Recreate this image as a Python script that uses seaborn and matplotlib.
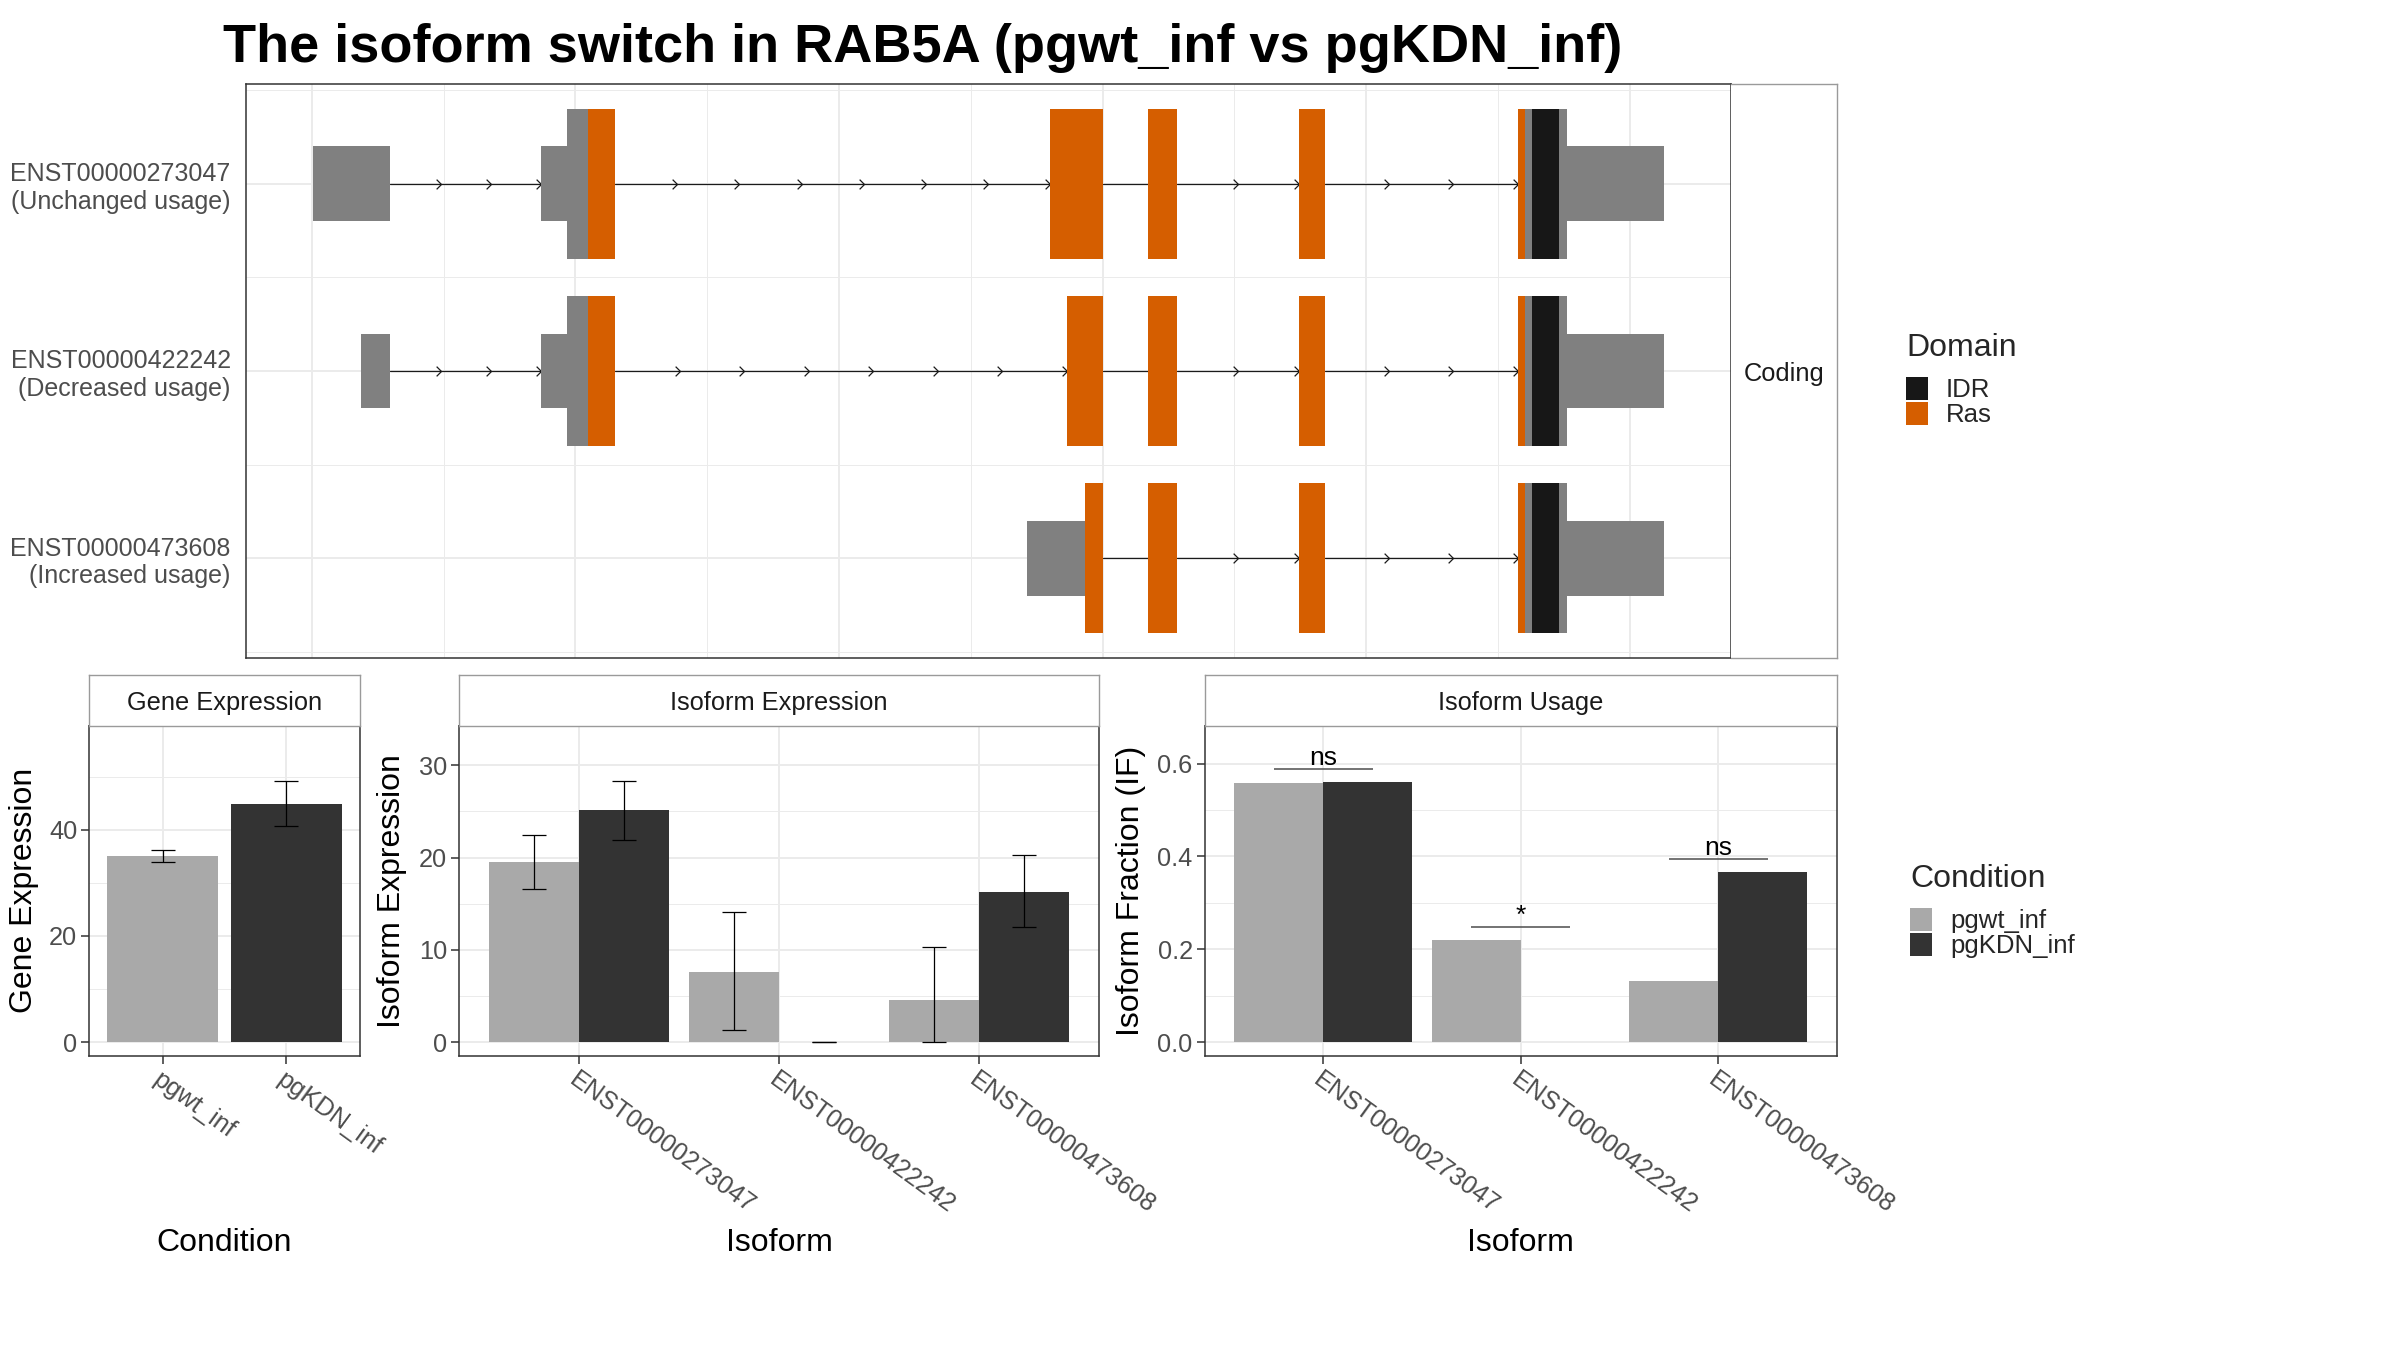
import numpy as np
import pandas as pd
import matplotlib
matplotlib.use("Agg")
import matplotlib.pyplot as plt
import seaborn as sns
from matplotlib.path import Path
from matplotlib.patches import Patch

# ---------------- data ----------------
title = "The isoform switch in RAB5A (pgwt_inf vs pgKDN_inf)"
conditions = ["pgwt_inf", "pgKDN_inf"]
cond_colors = ["#A9A9A9", "#333333"]
isoforms = ["ENST00000273047", "ENST00000422242", "ENST00000473608"]
usage_labels = ["(Unchanged usage)", "(Decreased usage)", "(Increased usage)"]
facet_label = "Coding"

# transcript structures (rescaled genomic coordinates)
exons_273047 = [(6, 298), (870, 1150), (2802, 3003), (3173, 3283), (3744, 3843), (4575, 5128)]
exons_422242 = [(188, 298), (870, 1150), (2863, 3003), (3173, 3283), (3744, 3843), (4575, 5128)]
exons_473608 = [(2712, 3003), (3173, 3283), (3744, 3843), (4575, 5128)]
cds_273047 = (969, 4763)
cds_422242 = (969, 4763)
cds_473608 = (2934, 4763)
domains_273047 = [("Ras", 1047, 4602), ("IDR", 4628, 4733)]
domains_422242 = [("Ras", 1047, 4602), ("IDR", 4628, 4733)]
domains_473608 = [("Ras", 2934, 4602), ("IDR", 4628, 4733)]
domain_names = ["IDR", "Ras"]
domain_colors = ["#171717", "#D55E00"]

# gene expression
gene_expr = [35.0, 44.8]
gene_lo = [33.9, 40.6]
gene_hi = [36.2, 49.2]

# isoform expression
iso_expr_wt = [19.5, 7.6, 4.6]
iso_expr_kd = [25.1, 0.0, 16.3]
iso_lo_wt = [16.6, 1.3, 0.0]
iso_hi_wt = [22.4, 14.1, 10.3]
iso_lo_kd = [21.9, 0.0, 12.5]
iso_hi_kd = [28.3, 0.0, 20.3]

# isoform usage
if_wt = [0.558, 0.221, 0.131]
if_kd = [0.561, 0.0, 0.367]
sig_labels = ["ns", "*", "ns"]
sig_y = [0.589, 0.249, 0.395]

# ---------------- style ----------------
sns.set_theme(style="white")
plt.rcParams["font.family"] = ["Liberation Sans", "DejaVu Sans"]
W, H = 2400, 1350
fig = plt.figure(figsize=(24, 13.5), dpi=100)
fig.patch.set_facecolor("white")

GRID = "#EBEBEB"
BORDER = "#333333"
STRIPB = "#9A9A9A"
TICKC = "#4D4D4D"
GREY = "#808080"
TICK_FS = 18.3
TITLE_FS = 23
STRIP_FS = 18.3


def fbox(x0, y0, x1, y1):
    return [x0 / W, 1 - y1 / H, (x1 - x0) / W, (y1 - y0) / H]


def style_panel(ax):
    for s in ax.spines.values():
        s.set_color(BORDER)
        s.set_linewidth(1.1)
        s.set_visible(True)
    ax.set_facecolor("white")
    ax.set_axisbelow(True)
    ax.grid(which="major", color=GRID, lw=1.4)
    ax.grid(which="minor", color=GRID, lw=0.7)


def strip(box, text):
    sax = fig.add_axes(fbox(*box))
    sax.set_xticks([])
    sax.set_yticks([])
    sax.set_facecolor("white")
    for s in sax.spines.values():
        s.set_color(STRIPB)
        s.set_linewidth(1.0)
    sax.text(0.5, 0.5, text, ha="center", va="center_baseline", fontsize=STRIP_FS,
             color="#1a1a1a", transform=sax.transAxes)
    return sax


# ---------------- title ----------------
fig.text(223 / W, 1 - 62 / H, title, fontsize=39, fontweight="bold", ha="left",
         va="baseline", color="black")

# ---------------- transcript panel ----------------
ax = fig.add_axes(fbox(246, 84, 1731, 658))
style_panel(ax)
chevron = Path([(-1, 1), (0, 0), (-1, -1)])
structures = [(exons_273047, cds_273047, domains_273047),
              (exons_422242, cds_422242, domains_422242),
              (exons_473608, cds_473608, domains_473608)]
rows = [3, 2, 1]
dcol = dict(zip(domain_names, domain_colors))
for (exons, cds, doms), yrow in zip(structures, rows):
    for (s0, e0), (s1, e1) in zip(exons[:-1], exons[1:]):
        ax.plot([e0, s1], [yrow, yrow], color="#1a1a1a", lw=0.9, zorder=1.2)
        L = s1 - e0
        n = int(np.ceil(L / 249)) if L > 232 else 0
        if n:
            xs = e0 + np.arange(1, n + 1) * L / n
            ax.plot(xs, [yrow] * n, ls="none", marker=chevron, ms=7, mfc="none",
                    mec="#1a1a1a", mew=0.9, zorder=1.3)
    for s, e in exons:
        if s < cds[0]:
            a, b = s, min(e, cds[0])
            ax.barh(yrow, b - a, left=a, height=0.4, color=GREY, lw=0, zorder=2)
        if e > cds[1]:
            a, b = max(s, cds[1]), e
            ax.barh(yrow, b - a, left=a, height=0.4, color=GREY, lw=0, zorder=2)
        a, b = max(s, cds[0]), min(e, cds[1])
        if b > a:
            ax.barh(yrow, b - a, left=a, height=0.8, color=GREY, lw=0, zorder=2)
            for name, d0, d1 in doms:
                c0, c1 = max(a, d0), min(b, d1)
                if c1 > c0:
                    ax.barh(yrow, c1 - c0, left=c0, height=0.8, color=dcol[name],
                            lw=0, zorder=3)

ax.set_xlim(-250, 5384)
ax.set_ylim(0.466, 3.534)
ax.set_xticks(np.arange(0, 5001, 1000))
ax.set_xticks(np.arange(500, 5000, 1000), minor=True)
ax.set_yticks(rows)
ax.set_yticklabels([f"{i}\n{u}" for i, u in zip(isoforms, usage_labels)])
ax.set_yticks([0.5, 1.5, 2.5, 3.5], minor=True)
ax.tick_params(axis="x", which="both", length=0, labelbottom=False)
ax.tick_params(axis="y", which="both", length=0, pad=11, labelsize=18, labelcolor=TICKC)
for lbl in ax.get_yticklabels():
    lbl.set_multialignment("right")

sx = strip((1731, 84, 1837, 658), facet_label)
sx.spines["left"].set_visible(False)

# ---------------- bottom panels ----------------
def bottom_axes(box):
    a = fig.add_axes(fbox(*box))
    style_panel(a)
    a.tick_params(axis="both", which="major", length=5.5, width=1.1, color=BORDER,
                  labelsize=TICK_FS, labelcolor=TICKC, pad=3, bottom=True, left=True)
    a.tick_params(axis="both", which="minor", length=0)
    return a


def rot_labels(a, labels):
    a.set_xticks(range(len(labels)))
    a.set_xticklabels(labels, rotation=-36, ha="left", va="top", rotation_mode="anchor")


def titles(a, xl, yl, ycoord):
    a.set_xlabel(xl, fontsize=TITLE_FS, color="black")
    a.set_ylabel(yl, fontsize=TITLE_FS, color="black")
    a.xaxis.set_label_coords(0.5, -0.565)
    a.yaxis.set_label_coords(ycoord, 0.5)
    a.xaxis.label.set_va("center")
    a.yaxis.label.set_va("center")


# Gene expression
ax1 = bottom_axes((89, 725.5, 360, 1056))
df_gene = pd.DataFrame({"Condition": conditions, "value": gene_expr})
sns.barplot(data=df_gene, x="Condition", y="value", hue="Condition", hue_order=conditions,
            palette=cond_colors, width=0.9, saturation=1, errorbar=None, legend=False,
            edgecolor="none", ax=ax1)
gx = np.arange(len(conditions))
ax1.errorbar(gx, gene_expr,
             yerr=[np.array(gene_expr) - np.array(gene_lo), np.array(gene_hi) - np.array(gene_expr)],
             fmt="none", ecolor="black", elinewidth=0.9, capsize=8.5, capthick=0.9, zorder=4)
ax1.set_xlim(-0.6, 1.6)
ax1.set_ylim(-2.6, 59.6)
ax1.set_yticks([0, 20, 40])
ax1.set_yticks([10, 30, 50], minor=True)
rot_labels(ax1, conditions)
ax1.grid(axis="x", which="major", color=GRID, lw=1.4)
titles(ax1, "Condition", "Gene Expression", -0.24)
strip((89, 675, 360, 725.5), "Gene Expression")

# Isoform expression
ax2 = bottom_axes((459, 725.5, 1099, 1056))
df_iso = pd.DataFrame({
    "Isoform": isoforms * 2,
    "Condition": [conditions[0]] * 3 + [conditions[1]] * 3,
    "value": iso_expr_wt + iso_expr_kd,
})
sns.barplot(data=df_iso, x="Isoform", y="value", hue="Condition", hue_order=conditions,
            palette=cond_colors, width=0.9, saturation=1, errorbar=None, legend=False,
            edgecolor="none", dodge=True, ax=ax2)
ix = np.arange(len(isoforms))
for vals, lo, hi, off in [(iso_expr_wt, iso_lo_wt, iso_hi_wt, -0.225),
                          (iso_expr_kd, iso_lo_kd, iso_hi_kd, 0.225)]:
    v = np.array(vals)
    ax2.errorbar(ix + off, v, yerr=[v - np.array(lo), np.array(hi) - v], fmt="none",
                 ecolor="black", elinewidth=0.9, capsize=8.5, capthick=0.9, zorder=4)
ax2.set_xlim(-0.6, 2.6)
ax2.set_ylim(-1.5, 34.3)
ax2.set_yticks([0, 10, 20, 30])
ax2.set_yticks([5, 15, 25], minor=True)
rot_labels(ax2, isoforms)
ax2.grid(axis="x", which="major", color=GRID, lw=1.4)
titles(ax2, "Isoform", "Isoform Expression", -0.105)
strip((459, 675, 1099, 725.5), "Isoform Expression")

# Isoform usage
ax3 = bottom_axes((1204.5, 725.5, 1837, 1056))
df_if = pd.DataFrame({
    "Isoform": isoforms * 2,
    "Condition": [conditions[0]] * 3 + [conditions[1]] * 3,
    "value": if_wt + if_kd,
})
sns.barplot(data=df_if, x="Isoform", y="value", hue="Condition", hue_order=conditions,
            palette=cond_colors, width=0.9, saturation=1, errorbar=None, legend=False,
            edgecolor="none", dodge=True, ax=ax3)
ax3.hlines(sig_y, ix - 0.25, ix + 0.25, color="#4D4D4D", lw=1.1, zorder=4)
for xi, yi, lab in zip(ix, sig_y, sig_labels):
    ax3.annotate(lab, (xi, yi), xytext=(0, 3), textcoords="offset points", ha="center",
                 va="baseline", fontsize=19, color="black")
ax3.set_xlim(-0.6, 2.6)
ax3.set_ylim(-0.0297, 0.682)
ax3.set_yticks([0, 0.2, 0.4, 0.6])
ax3.set_yticklabels(["0.0", "0.2", "0.4", "0.6"])
ax3.set_yticks([0.1, 0.3, 0.5], minor=True)
rot_labels(ax3, isoforms)
ax3.grid(axis="x", which="major", color=GRID, lw=1.4)
titles(ax3, "Isoform", "Isoform Fraction (IF)", -0.116)
strip((1204.5, 675, 1837, 725.5), "Isoform Usage")

# ---------------- legends ----------------
leg_kw = dict(loc="upper left", frameon=False, fontsize=18.5, title_fontsize=23,
              handlelength=0.86, handleheight=1.0, handletextpad=0.7, labelspacing=0.0,
              borderaxespad=0, borderpad=0, alignment="left")
dh = [Patch(facecolor=c, edgecolor="none") for c in domain_colors]
leg1 = fig.legend(dh, domain_names, title="Domain", bbox_to_anchor=(1906 / W, 1 - 333 / H), **leg_kw)
ch = [Patch(facecolor=c, edgecolor="none") for c in cond_colors]
leg2 = fig.legend(ch, conditions, title="Condition", bbox_to_anchor=(1910 / W, 1 - 864 / H), **leg_kw)
for lg in (leg1, lg2) if False else (leg1, leg2):
    lg._legend_box.sep = 10

fig.savefig("out.png", dpi=100, facecolor="white")
